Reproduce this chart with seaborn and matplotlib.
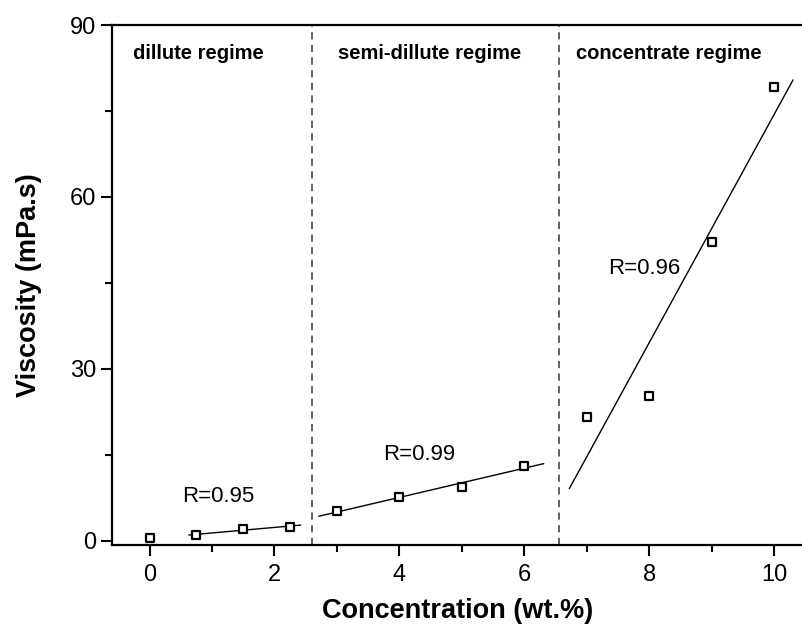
import numpy as np
import pandas as pd
import matplotlib
matplotlib.use("Agg")
import matplotlib.pyplot as plt
import seaborn as sns
from matplotlib.ticker import MultipleLocator

sns.set_theme(style="ticks")
plt.rcParams['font.family'] = ['Liberation Sans', 'DejaVu Sans']
plt.rcParams['text.color'] = 'black'
plt.rcParams['axes.labelcolor'] = 'black'

# Data
concentration = [0, 0.75, 1.5, 2.25, 3, 4, 5, 6, 7, 8, 9, 10]
viscosity = [0.5, 1.05, 2.1, 2.5, 5.2, 7.7, 9.5, 13.1, 21.7, 25.3, 52.2, 79.1]

# Fit groups (indices into data) and the x-span of each fitted line
fit_groups = [[1, 2, 3], [4, 5, 6, 7], [8, 9, 10, 11]]
fit_spans = [(0.63, 2.42), (2.71, 6.31), (6.72, 10.3)]
fit_labels = ["R=0.95", "R=0.99", "R=0.96"]
fit_label_pos = [(0.53, 7.7), (3.74, 15.0), (7.34, 47.6)]

regime_bounds = [2.6, 6.55]
regime_labels = ["dillute regime", "semi-dillute regime", "concentrate regime"]
regime_label_x = [-0.27, 3.02, 6.83]

df = pd.DataFrame({"Concentration": concentration, "Viscosity": viscosity})

fig = plt.figure(figsize=(8.03, 6.25), dpi=100)
ax = fig.add_axes([0.1395, 0.128, 0.8605, 0.832])

# fitted lines
xs = np.array(concentration)
ys = np.array(viscosity)
for grp, span in zip(fit_groups, fit_spans):
    k, b = np.polyfit(xs[grp], ys[grp], 1)
    lx = np.array(span)
    sns.lineplot(x=lx, y=k * lx + b, ax=ax, color="black", linewidth=1.0)

sns.scatterplot(data=df, x="Concentration", y="Viscosity", ax=ax, marker="s",
                s=36, facecolor="white", edgecolor="black", linewidth=1.6, zorder=3)

for xb in regime_bounds:
    ax.axvline(xb, color="#555555", linestyle=(0, (4, 3)), linewidth=1.3)

for lab, lx in zip(regime_labels, regime_label_x):
    ax.text(lx, 85.1, lab, fontsize=14.5, fontweight="bold", ha="left", va="center", color="black")

for lab, (px, py) in zip(fit_labels, fit_label_pos):
    ax.text(px, py, lab, fontsize=16, ha="left", va="center", color="black")

ax.set_xlim(-0.6, 10.46)
ax.set_ylim(-0.7, 90)
ax.set_xticks([0, 2, 4, 6, 8, 10])
ax.set_yticks([0, 30, 60, 90])
ax.xaxis.set_minor_locator(MultipleLocator(1))
ax.yaxis.set_minor_locator(MultipleLocator(15))
ax.tick_params(axis="both", which="major", length=8, width=1.5, labelsize=17, colors="black", direction="out")
ax.tick_params(axis="x", which="major", pad=6)
ax.tick_params(axis="both", which="minor", length=5, width=1.5, direction="out", colors="black")
for s in ["left", "bottom", "top"]:
    ax.spines[s].set_linewidth(1.6)
    ax.spines[s].set_color("black")
ax.spines["right"].set_visible(False)

ax.set_xlabel("Concentration (wt.%)", fontsize=19.5, fontweight="bold", labelpad=8, color="black")
ax.set_ylabel("Viscosity (mPa.s)", fontsize=19.5, fontweight="bold", labelpad=20, color="black")

fig.savefig("out.png", dpi=100)
